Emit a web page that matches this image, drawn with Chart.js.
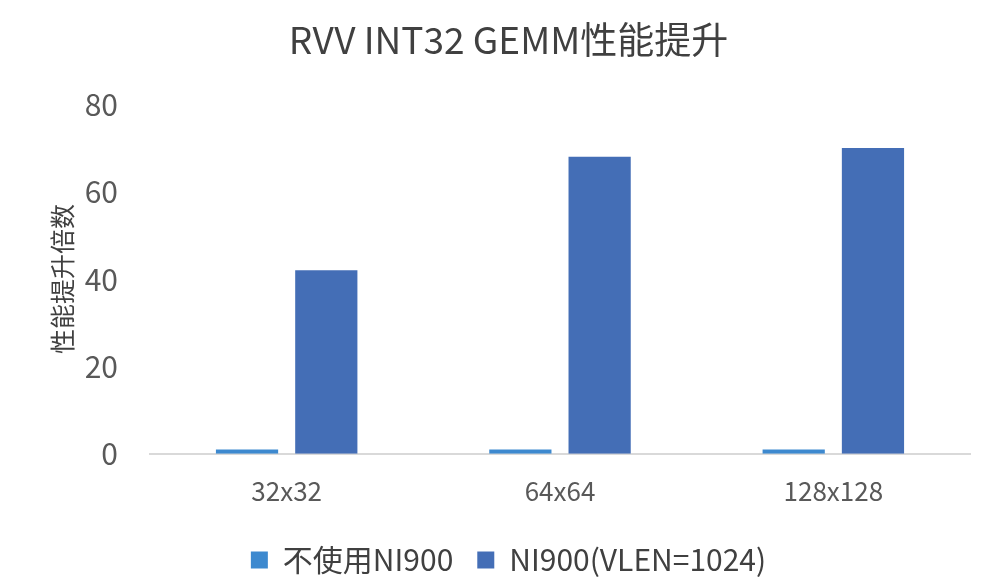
<!DOCTYPE html>
<html><head><meta charset="utf-8">
<script src="https://cdn.jsdelivr.net/npm/chart.js@4"></script>
<style>html,body{margin:0;padding:0;background:#fff}#wrap{width:1000px;height:587px}</style>
</head><body><div id="wrap"><canvas id="c" width="1000" height="587"></canvas></div>
<script>
const categories = ['32x32','64x64','128x128'];
const seriesNames = ['不使用NI900','NI900(VLEN=1024)'];
const baseline = [1,1,1];
const ni900 = [42,68,70];
const yTicks = [0,20,40,60,80];
const FONT = '"Noto Sans CJK SC","Noto Sans",sans-serif';
new Chart(document.getElementById('c'),{
  type:'bar',
  data:{labels:categories,datasets:[
    {label:seriesNames[0],data:baseline,backgroundColor:'#3D89CF'},
    {label:seriesNames[1],data:ni900,backgroundColor:'#446EB6'}
  ]},
  options:{
    responsive:false,animation:false,
    layout:{padding:{left:47,right:30,top:10,bottom:2}},
    datasets:{bar:{categoryPercentage:0.58,barPercentage:0.785}},
    plugins:{
      title:{display:true,text:'RVV INT32 GEMM性能提升',color:'#404040',font:{family:FONT,size:37,weight:'normal'},padding:{top:8,bottom:42}},
      legend:{position:'bottom',labels:{color:'#404040',font:{family:FONT,size:30},boxWidth:17,boxHeight:17,padding:24}},
      tooltip:{enabled:false}
    },
    scales:{
      x:{grid:{display:false},border:{color:'#D9D9D9',width:2},ticks:{color:'#595959',font:{family:FONT,size:26},padding:14}},
      y:{min:0,max:80,afterBuildTicks:(s)=>{s.ticks=yTicks.map(v=>({value:v}));},
        afterFit:(s)=>{s.width=103;},
        grid:{display:false,drawTicks:false},border:{display:false},
        ticks:{color:'#595959',font:{family:FONT,size:30},padding:32},
        title:{display:true,text:'性能提升倍数',color:'#404040',font:{family:FONT,size:25},padding:{top:0,bottom:0}}}
    }
  }
});
</script></body></html>
